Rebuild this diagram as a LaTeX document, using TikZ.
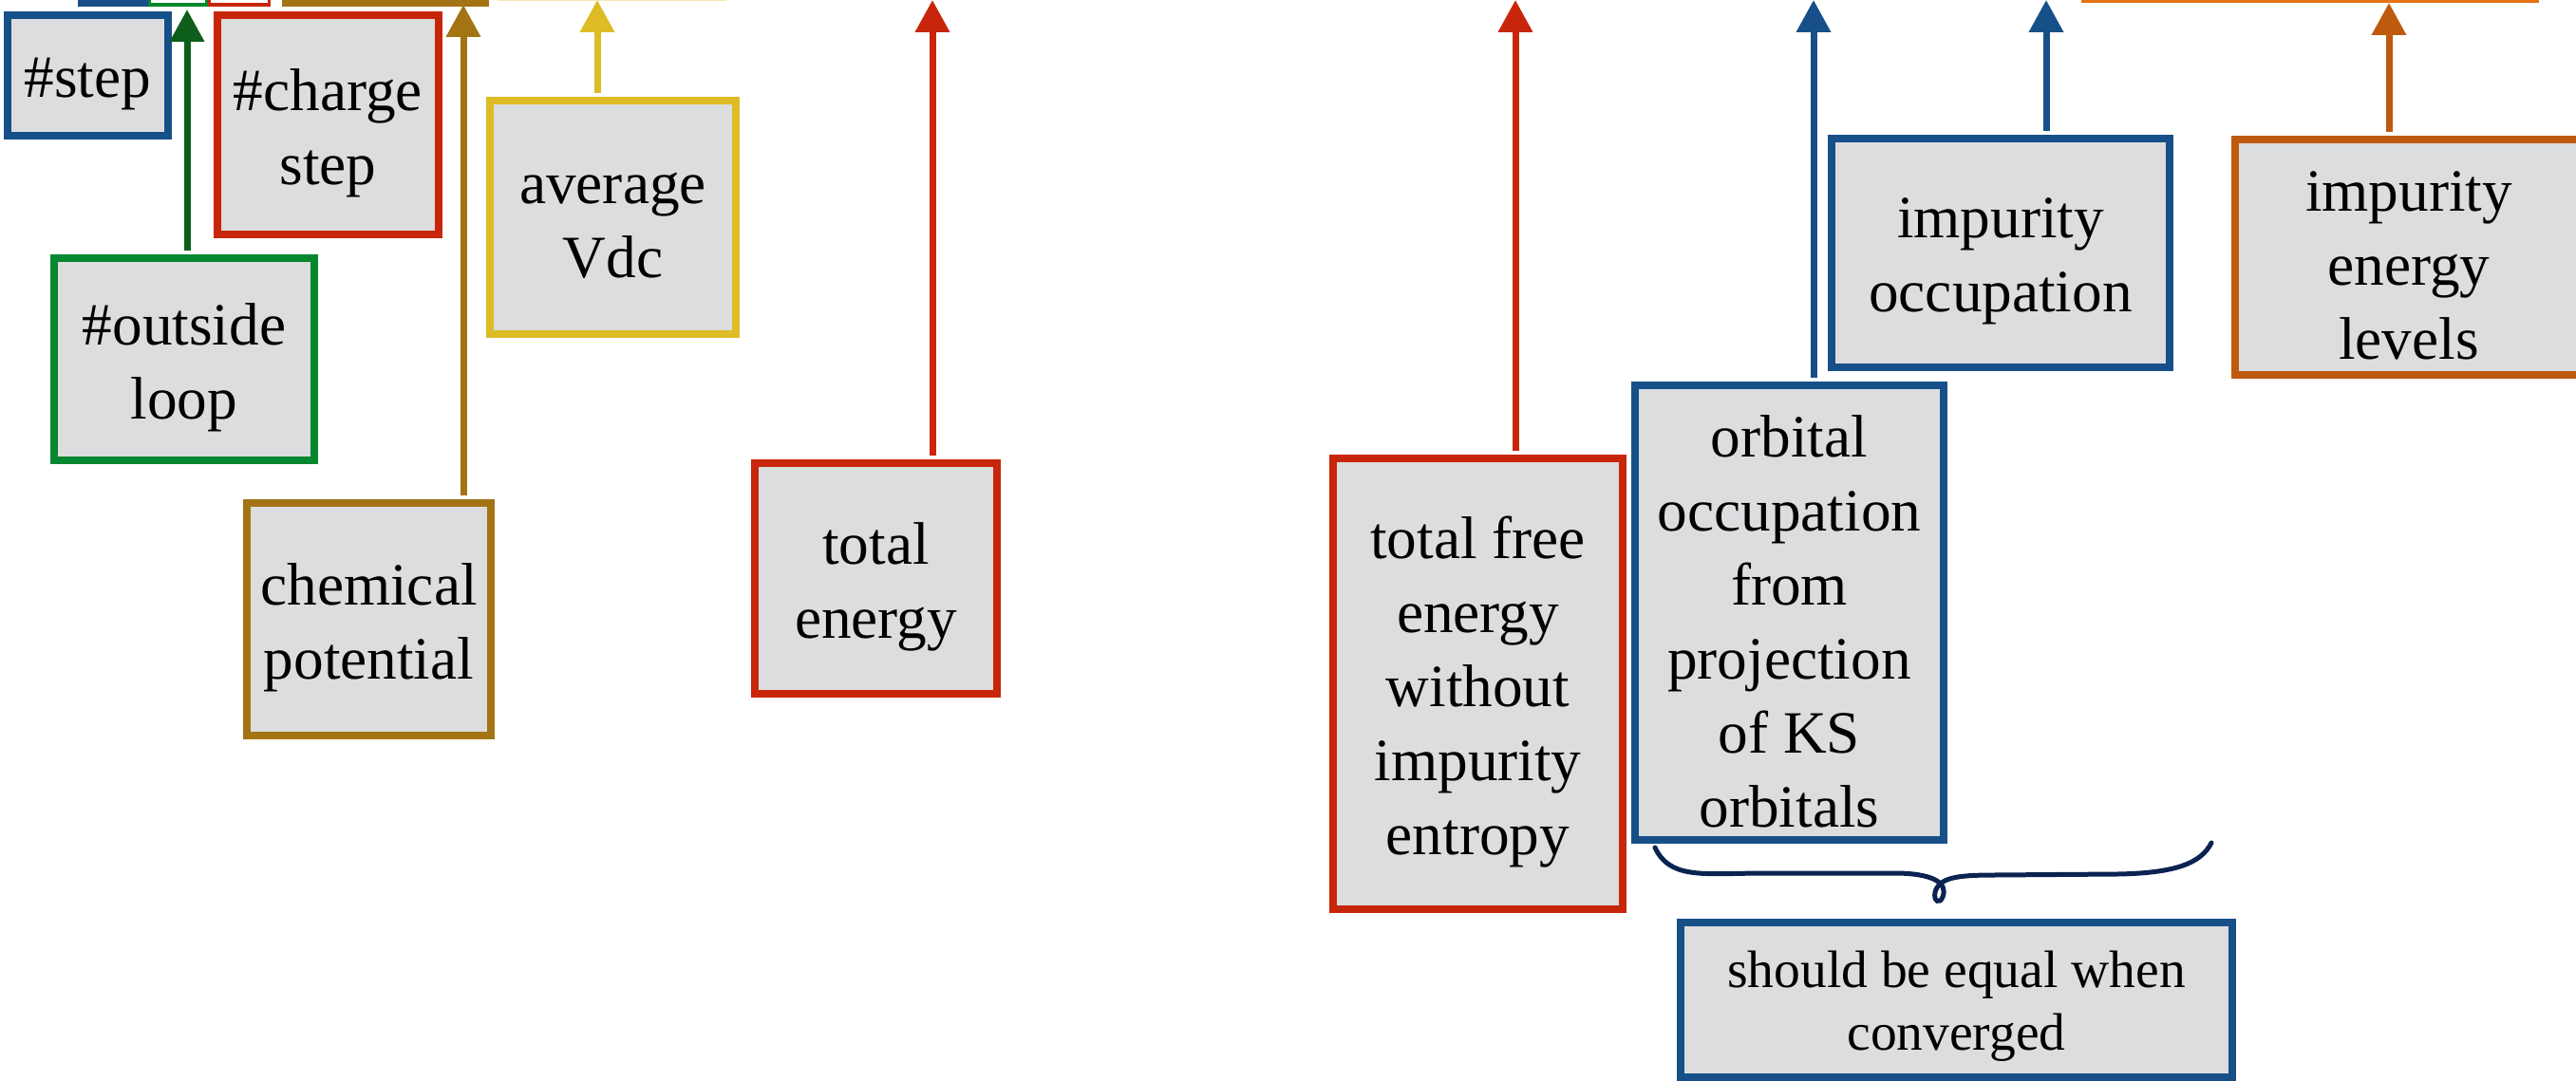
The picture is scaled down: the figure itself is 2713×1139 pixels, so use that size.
\documentclass[tikz,border=0pt]{standalone}
\usepackage{fontspec}
\setmainfont{Liberation Serif}
\usetikzlibrary{arrows.meta,calc}
\definecolor{cblue}{RGB}{23,80,136}
\definecolor{cred}{RGB}{200,38,10}
\definecolor{cgreen}{RGB}{4,135,46}
\definecolor{cdgreen}{RGB}{13,94,26}
\definecolor{cbrown}{RGB}{163,116,20}
\definecolor{cyellow}{RGB}{221,188,38}
\definecolor{corange}{RGB}{190,90,15}
\definecolor{corangeb}{RGB}{228,115,20}
\definecolor{cpale}{RGB}{245,232,180}
\definecolor{cfill}{RGB}{220,221,223}
\definecolor{cnavy}{RGB}{10,35,80}
\newcommand\mybox[6]{%
  \node[box, draw=#2, minimum width=#3, minimum height=#4] (#1) at #5 {};
  \node[boxtext, yshift=-0.9mm] (#1-t) at (#1.center) {#6};}
\begin{document}
\begin{tikzpicture}[x=0.1mm,y=-0.1mm,
  box/.style={draw, fill=cfill, line width=0.8mm, inner sep=0pt},
  boxtext/.style={inner sep=0pt, align=center, font=\fontsize{18}{22.2}\selectfont},
  arr/.style={line width=0.7mm, -{Triangle[length=3.4mm,width=3.5mm]}},
  bracestyle/.style={draw=cnavy, line width=0.5mm, line cap=round}]
\useasboundingbox (0,0) rectangle (2713,1139);
\clip (0,0) rectangle (2713,1139);
% partial shapes cut by the top edge
\fill[cblue] (82,-20) rectangle (156,7);
\draw[cgreen, line width=0.35mm, fill=white] (157.5,-20) rectangle (217.5,5);
\draw[cred, line width=0.35mm, fill=white] (220.5,-20) rectangle (283.5,5);
\fill[cbrown] (297,-20) rectangle (515,7);
\fill[cpale] (524,-20) rectangle (765,1.5);
\fill[corangeb] (2192,-20) rectangle (2674,3);
% boxes
\mybox{step}{cblue}{16.9mm}{12.7mm}{(92.5,79.5)}{\#step}
\mybox{charge}{cred}{23.3mm}{23.1mm}{(345.5,131.5)}{\#charge\\step}
\mybox{outside}{cgreen}{27.4mm}{21.3mm}{(194,378.5)}{\#outside\\loop}
\mybox{chem}{cbrown}{25.7mm}{24.5mm}{(388.5,652.5)}{chemical\\potential}
\mybox{vdc}{cyellow}{25.9mm}{24.6mm}{(645.5,229)}{average\\Vdc}
\mybox{etot}{cred}{25.5mm}{24.3mm}{(922.5,609.5)}{total\\energy}
\mybox{free}{cred}{30.5mm}{47.5mm}{(1556.5,720.5)}{total free\\energy\\without\\impurity\\entropy}
\mybox{orb}{cblue}{32.5mm}{47.9mm}{(1884.5,645.5)}{orbital\\occupation\\from\\projection\\of KS\\orbitals}
\mybox{imocc}{cblue}{35.6mm}{24.1mm}{(2107,266.5)}{impurity\\occupation}
\mybox{levels}{corange}{36.6mm}{24.8mm}{(2537,271)}{impurity\\energy\\levels}
\node[box, draw=cblue, minimum width=58.1mm, minimum height=16.3mm] (equal) at (2060.5,1053.5) {};
\node[boxtext, yshift=-0.7mm, font=\fontsize{15.8}{18.8}\selectfont] (equal-t) at (equal.center) {should be equal when\\converged};
% arrow tips
\coordinate (tg) at (197,10);
\coordinate (tb) at (488,5);
\coordinate (ty) at (629,0);
\coordinate (tr1) at (982,0);
\coordinate (tr2) at (1596,0);
\coordinate (tu1) at (1910,0);
\coordinate (tu2) at (2155,0);
\coordinate (to) at (2516,3);
\draw[arr, cdgreen] ($(outside.north -| tg)+(0,-4)$) -- (tg);
\draw[arr, cbrown] ($(chem.north -| tb)+(0,-4)$) -- (tb);
\draw[arr, cyellow] ($(vdc.north -| ty)+(0,-4)$) -- (ty);
\draw[arr, cred] ($(etot.north -| tr1)+(0,-4)$) -- (tr1);
\draw[arr, cred] ($(free.north -| tr2)+(0,-4)$) -- (tr2);
\draw[arr, cblue] ($(orb.north -| tu1)+(0,-4)$) -- (tu1);
\draw[arr, cblue] ($(imocc.north -| tu2)+(0,-4)$) -- (tu2);
\draw[arr, corange] ($(levels.north -| to)+(0,-4)$) -- (to);
% brace
\draw[bracestyle] (1743,893) .. controls (1758,925) and (1790,921) .. (1850,920)
  -- (1995,920) .. controls (2035,920) and (2052,930) .. (2046,945)
  .. controls (2043,953) and (2036,950) .. (2038,940)
  .. controls (2042,925) and (2060,922) .. (2100,922)
  -- (2230,921) .. controls (2290,920) and (2318,910) .. (2329,888);
\end{tikzpicture}
\end{document}
